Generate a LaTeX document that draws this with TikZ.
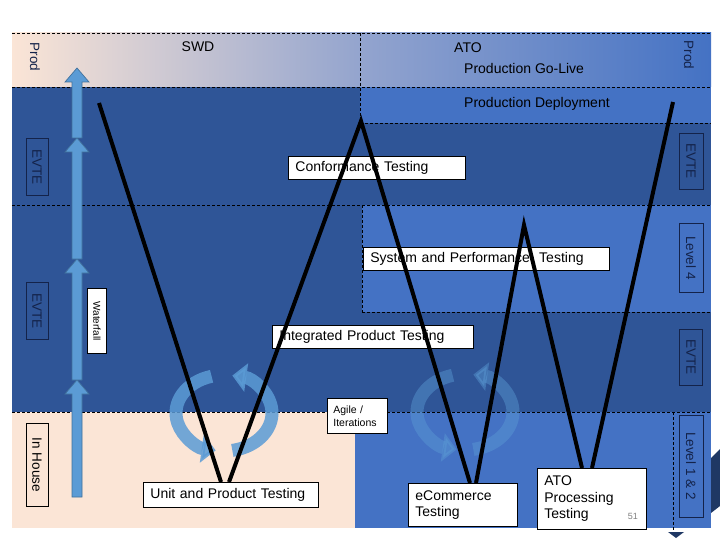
\documentclass[tikz,border=0pt]{standalone}
\usepackage{fontspec}
\setmainfont{Liberation Sans}
\usetikzlibrary{calc,arrows.meta}
\definecolor{dkblue}{HTML}{2F5597}
\definecolor{mdblue}{HTML}{4472C4}
\definecolor{peach}{HTML}{FBE5D6}
\definecolor{midgrad}{HTML}{93A4CE}
\definecolor{navy}{HTML}{14234A}
\definecolor{arrowblue}{HTML}{5B9BD5}
\definecolor{arrowedge}{HTML}{41719C}
\definecolor{decor}{HTML}{1F3864}
\begin{document}
\begin{tikzpicture}[x=1pt,y=-1pt,
  dline/.style={draw=black,line width=0.7pt,dash pattern=on 3pt off 2pt},
  tbox/.style={draw=black,fill=white,line width=0.8pt,inner sep=0pt,inner xsep=7pt,align=left,anchor=north west,font=\fontsize{14}{16.5}\selectfont},
  vlab/.style={draw=navy,text=navy,line width=0.8pt,rotate=-90,inner sep=0pt,font=\fontsize{13.5}{15}\selectfont},
  plain/.style={font=\fontsize{14}{16}\selectfont,inner sep=0pt},
  vline/.style={draw=black,line width=4pt,line join=miter},
  uparrow/.style={fill=arrowblue,draw=arrowedge,line width=0.7pt},
  cyc/.style={draw=arrowblue,line width=13pt,-{Triangle[width=28pt,length=14pt]}}
]
\useasboundingbox (0,0) rectangle (720,540);
% bands
\shade[left color=peach,right color=mdblue,middle color=midgrad] (12,33) rectangle (711,87);
\fill[dkblue] (12,87) rectangle (360,123);
\fill[mdblue] (360,87) rectangle (711,123);
\fill[dkblue] (12,123) rectangle (711,205);
\fill[dkblue] (12,205) rectangle (362,312);
\fill[mdblue] (362,205) rectangle (711,312);
\fill[dkblue] (12,312) rectangle (711,412);
\fill[peach] (12,412) rectangle (355,528);
\fill[mdblue] (355,412) rectangle (711,528);
% decorations on the right
\fill[decor] (711,458) -- (720,449) -- (720,506) -- (711,513) -- cycle;
\fill[decor] (668,532) -- (684,532) -- (676,538) -- cycle;
% dashed lines
\draw[dline] (12,33) -- (711,33);
\draw[dline] (12,87) -- (711,87);
\draw[dline] (360,123) -- (711,123);
\draw[dline] (360,33) -- (360,123);
\draw[dline] (12,205) -- (711,205);
\draw[dline] (362,312) -- (711,312);
\draw[dline] (362,205) -- (362,312);
\draw[dline] (12,412) -- (711,412);
\draw[dline] (673,412) -- (673,531);
% top texts
\node[plain] (swd) at (198,47) {SWD};
\node[plain,anchor=west] (ato0) at (454,48) {ATO};
\node[plain,anchor=west] (golive) at (464,68) {Production Go-Live};
\node[plain,anchor=west] (deploy) at (464,104) {Production Deployment};
\node[vlab,draw=none] (prodL) at (35,57) {Prod};
\node[vlab,draw=none] (prodR) at (689,55) {Prod};
% left arrows
\draw[uparrow] (72,497) -- (72,394) -- (65,394) -- (77,380) -- (89,394) -- (82,394) -- (82,497) -- cycle;
\draw[uparrow] (72,380) -- (72,273) -- (65,273) -- (77,259) -- (89,273) -- (82,273) -- (82,380) -- cycle;
\draw[uparrow] (72,259) -- (72,152) -- (65,152) -- (77,138) -- (89,152) -- (82,152) -- (82,259) -- cycle;
\draw[uparrow] (72,138) -- (72,82) -- (65,82) -- (77,68) -- (89,82) -- (82,82) -- (82,138) -- cycle;
% side labels
\node[vlab,minimum width=57pt,minimum height=22pt] (evteL1) at (37,167) {EVTE};
\node[vlab,minimum width=57pt,minimum height=22pt] (evteL2) at (37,311) {EVTE};
\node[vlab,draw=black,text=black,fill=white,minimum width=65pt,minimum height=19pt,font=\fontsize{10}{11}\selectfont] (waterfall) at (97,321) {Waterfall};
\node[vlab,draw=black,text=black,minimum width=83pt,minimum height=22pt] (inhouse) at (37,465) {In House};
\node[vlab,minimum width=56pt,minimum height=24pt] (evteR1) at (691,161) {EVTE};
\node[vlab,minimum width=69pt,minimum height=24pt] (level4) at (691,258) {Level 4};
\node[vlab,minimum width=56pt,minimum height=23pt] (evteR2) at (691,357) {EVTE};
\node[vlab,minimum width=102pt,minimum height=24pt] (level12) at (691,466) {Level 1 \& 2};
% cycle arrows
\coordinate (c1) at (224,413);
\coordinate (c2) at (465,412);
\begin{scope}[opacity=0.85]
\draw[cyc] ($(c1)+(80:48 and 38)$) arc[start angle=80,end angle=-80,x radius=48,y radius=38];
\draw[cyc] ($(c1)+(255:48 and 38)$) arc[start angle=255,end angle=100,x radius=48,y radius=38];
\end{scope}
\begin{scope}[opacity=0.45]
\draw[cyc] ($(c2)+(80:48 and 38)$) arc[start angle=80,end angle=-80,x radius=48,y radius=38];
\draw[cyc] ($(c2)+(255:48 and 38)$) arc[start angle=255,end angle=100,x radius=48,y radius=38];
\end{scope}
% boxes
\node[tbox,text width=163pt,minimum height=23pt] (conf) at (288,156) {Conformance Testing};
\node[tbox,text width=232pt,minimum height=23pt] (sys) at (363,247) {System and Performance~ Testing};
\node[tbox,text width=187pt,minimum height=23pt] (integ) at (272,325) {Integrated Product Testing};
\node[tbox,inner xsep=6pt,text width=48pt,minimum height=35pt,font=\fontsize{10.5}{13}\selectfont] (agile) at (327,398) {Agile /\\Iterations};
\node[tbox,text width=161pt,minimum height=25pt] (unit) at (143,482) {Unit and Product Testing};
\node[tbox,text width=95pt,minimum height=43pt] (ecom) at (408,483) {eCommerce\\Testing};
\node[tbox,text width=95pt,minimum height=61pt] (ato) at (537,468) {ATO\\Processing\\Testing};
\node[font=\fontsize{9}{9}\selectfont,text=gray,inner sep=0pt] (pg) at ($(ato.south east)+(-14,-13)$) {51};
% V lines
\coordinate (s1) at (99,103);
\coordinate (apex1) at (361,121);
\coordinate (apex2) at (524,225);
\coordinate (e1) at (673,102);
\draw[vline] (s1) -- ($(unit.north west)+(78,0)$);
\draw[vline] ($(unit.north west)+(86,0)$) -- (apex1) -- ($(ecom.north west)+(62,0)$);
\draw[vline] ($(ecom.north west)+(68,0)$) -- (apex2) -- ($(ato.north west)+(45,0)$);
\draw[vline] ($(ato.north west)+(55,0)$) -- (e1);
\end{tikzpicture}
\end{document}
